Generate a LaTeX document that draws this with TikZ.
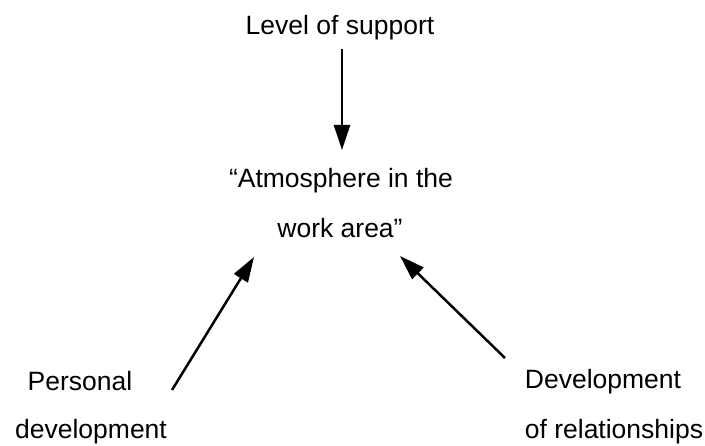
\documentclass[tikz,border=0pt]{standalone}
\usepackage{fontspec}
\setmainfont{Liberation Sans}
\usetikzlibrary{arrows.meta}
\begin{document}
\begin{tikzpicture}[x=1pt,y=-1pt,
  lbl/.style={anchor=base,inner sep=0pt,font=\fontsize{26.5}{50}\selectfont},
  conn/.style={line width=2.5pt,-{Triangle[length=25pt,width=16pt]}}]
\useasboundingbox (0,0) rectangle (705,446);
\node[lbl] (sup) at (340,35) {Level of support};
\node[lbl] (atm1) at (341,188) {“Atmosphere in the};
\node[lbl] (atm2) at (340,238) {work area”};
\node[lbl] (pers1) at (80,391) {Personal};
\node[lbl] (pers2) at (91,439) {development};
\node[lbl] (rel1) at (603,389) {Development};
\node[lbl] (rel2) at (614,439) {of relationships};
\coordinate (supS) at (342,49);
\coordinate (atmN) at (342,150);
\coordinate (persT) at (172,390);
\coordinate (atmSW) at (254,257);
\coordinate (relT) at (505,358);
\coordinate (atmSE) at (400,256);
\draw[conn] (supS) -- (atmN);
\draw[conn] (persT) -- (atmSW);
\draw[conn] (relT) -- (atmSE);
\end{tikzpicture}
\end{document}
